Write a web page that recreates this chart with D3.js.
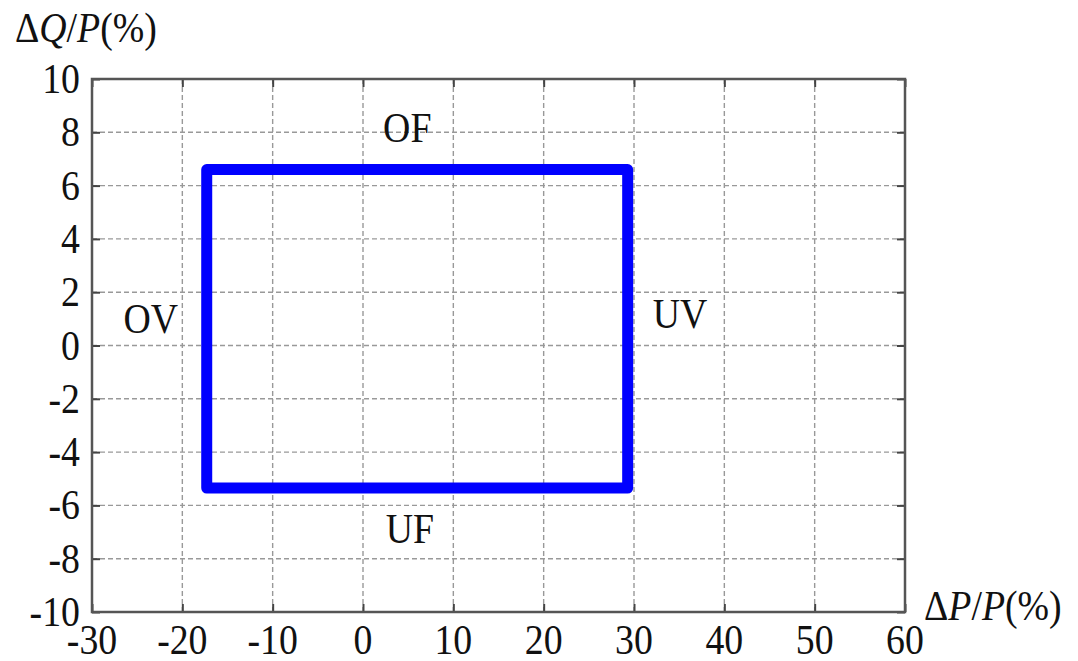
<!DOCTYPE html>
<html lang="en">
<head>
	<meta charset="UTF-8">
	<script src="https://d3js.org/d3.v7.min.js"></script>
	<title></title>
<style>
	body { margin: 0; background: #fff; }
	svg text { font-family: "Liberation Serif", "Times New Roman", Times, "DejaVu Serif", serif; fill: #111; }
</style>
</head>
<body>
	<svg width="1078" height="661"></svg>
<script>
	// data
	var xTicks = [-30, -20, -10, 0, 10, 20, 30, 40, 50, 60];
	var yTicks = [-10, -8, -6, -4, -2, 0, 2, 4, 6, 8, 10];
	var boxP = [-17.3, -17.3, 29.3, 29.3, -17.3];   // ΔP/P corners
	var boxQ = [-5.35, 6.6, 6.6, -5.35, -5.35];     // ΔQ/P corners
	var zoneNames = ["OF", "OV", "UV", "UF"];
	var zoneP = [4.9, -23.5, 35.1, 5.2];
	var zoneQ = [8.15, 1.0, 1.2, -6.9];

	var svg = d3.select('svg');
	var pl = 92, pr = 905, pt = 79, pb = 612;

	var x = d3.scaleLinear().domain([-30, 60]).range([pl, pr]);
	var y = d3.scaleLinear().domain([-10, 10]).range([pb, pt]);

	var fs = 42, sx = 0.9;

	// grid
	var grid = svg.append('g');
	grid.selectAll('line.gx')
		.data(xTicks.slice(1, -1))
		.enter().append('line')
		.attr('x1', function(d){ return x(d); })
		.attr('x2', function(d){ return x(d); })
		.attr('y1', pt).attr('y2', pb)
		.attr('stroke', '#999').attr('stroke-width', 1.4)
		.attr('stroke-dasharray', '5,3');
	grid.selectAll('line.gy')
		.data(yTicks.slice(1, -1))
		.enter().append('line')
		.attr('y1', function(d){ return y(d); })
		.attr('y2', function(d){ return y(d); })
		.attr('x1', pl).attr('x2', pr)
		.attr('stroke', '#999').attr('stroke-width', 1.4)
		.attr('stroke-dasharray', '5,3');

	// axes (inward ticks on all four sides)
	var tk = 8;
	svg.append('g').attr('transform', 'translate(0,' + pb + ')')
		.call(d3.axisTop(x).tickValues(xTicks).tickSize(tk).tickFormat(''));
	svg.append('g').attr('transform', 'translate(0,' + pt + ')')
		.call(d3.axisBottom(x).tickValues(xTicks).tickSize(tk).tickFormat(''));
	svg.append('g').attr('transform', 'translate(' + pl + ',0)')
		.call(d3.axisRight(y).tickValues(yTicks).tickSize(tk).tickFormat(''));
	svg.append('g').attr('transform', 'translate(' + pr + ',0)')
		.call(d3.axisLeft(y).tickValues(yTicks).tickSize(tk).tickFormat(''));
	svg.selectAll('.domain').remove();
	svg.selectAll('.tick line').attr('stroke', '#444').attr('stroke-width', 2);

	svg.append('rect')
		.attr('x', pl).attr('y', pt)
		.attr('width', pr - pl).attr('height', pb - pt)
		.attr('fill', 'none').attr('stroke', '#555').attr('stroke-width', 2.5);

	// tick labels
	svg.selectAll('text.xl')
		.data(xTicks)
		.enter().append('text')
		.attr('class', 'xl')
		.attr('transform', function(d){ return 'translate(' + x(d) + ',654) scale(' + sx + ',1)'; })
		.attr('text-anchor', 'middle')
		.attr('font-size', fs)
		.text(function(d){ return d; });
	svg.selectAll('text.yl')
		.data(yTicks)
		.enter().append('text')
		.attr('class', 'yl')
		.attr('transform', function(d){ return 'translate(80,' + (y(d) + 14) + ') scale(' + sx + ',1)'; })
		.attr('text-anchor', 'end')
		.attr('font-size', fs)
		.text(function(d){ return d; });

	// axis titles
	var ty = svg.append('text')
		.attr('transform', 'translate(15,42) scale(' + sx + ',1)')
		.attr('font-size', fs);
	ty.append('tspan').text('Δ');
	ty.append('tspan').attr('font-style', 'italic').text('Q');
	ty.append('tspan').text('/');
	ty.append('tspan').attr('font-style', 'italic').text('P');
	ty.append('tspan').text('(%)');

	var tx = svg.append('text')
		.attr('transform', 'translate(924,620) scale(' + sx + ',1)')
		.attr('font-size', fs);
	tx.append('tspan').text('Δ');
	tx.append('tspan').attr('font-style', 'italic').text('P');
	tx.append('tspan').text('/');
	tx.append('tspan').attr('font-style', 'italic').text('P');
	tx.append('tspan').text('(%)');

	// operating box
	var pts = boxP.map(function(p, i){ return [p, boxQ[i]]; });
	svg.append('path')
		.datum(pts)
		.attr('d', d3.line().x(function(d){ return x(d[0]); }).y(function(d){ return y(d[1]); }))
		.attr('fill', 'none')
		.attr('stroke', '#0000ff')
		.attr('stroke-width', 11)
		.attr('stroke-linejoin', 'round')
		.attr('stroke-linecap', 'round');

	// zone labels
	svg.selectAll('text.zone')
		.data(zoneNames)
		.enter().append('text')
		.attr('class', 'zone')
		.attr('transform', function(d, i){ return 'translate(' + x(zoneP[i]) + ',' + (y(zoneQ[i]) + 14) + ') scale(' + sx + ',1)'; })
		.attr('text-anchor', 'middle')
		.attr('font-size', fs)
		.text(function(d){ return d; });
</script>
</body>
</html>
